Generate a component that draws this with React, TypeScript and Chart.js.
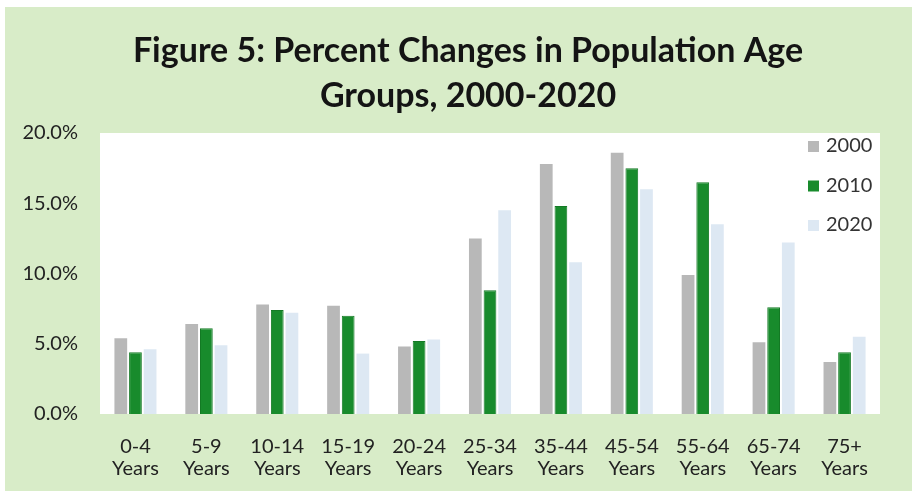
import React, { useEffect, useRef } from "react";
import { Chart, registerables } from "chart.js";

Chart.register(...registerables);

const titleLines = ["Figure 5: Percent Changes in Population Age", "Groups, 2000-2020"];

const ageGroups: string[][] = [
  ["0-4", "Years"],
  ["5-9", "Years"],
  ["10-14", "Years"],
  ["15-19", "Years"],
  ["20-24", "Years"],
  ["25-34", "Years"],
  ["35-44", "Years"],
  ["45-54", "Years"],
  ["55-64", "Years"],
  ["65-74", "Years"],
  ["75+", "Years"],
];

const share2000 = [5.4, 6.4, 7.8, 7.7, 4.8, 12.5, 17.8, 18.6, 9.9, 5.1, 3.7];
const share2010 = [4.4, 6.1, 7.4, 7.0, 5.2, 8.8, 14.8, 17.5, 16.5, 7.6, 4.4];
const share2020 = [4.6, 4.9, 7.2, 4.3, 5.3, 14.5, 10.8, 16.0, 13.5, 12.2, 5.5];

const yTicks = [0, 5, 10, 15, 20];

const FONT = "Lato, 'Noto Sans', sans-serif";
const BG_GREEN = "#d8ecc8";

// Paints the light green card and the white plotting panel.
const backdrop = {
  id: "backdrop",
  beforeDraw(chart: any) {
    const { ctx, width, height, chartArea } = chart;
    ctx.save();
    ctx.fillStyle = "#ffffff";
    ctx.fillRect(0, 0, width, height);
    ctx.fillStyle = BG_GREEN;
    ctx.fillRect(5, 7, width - 5, height - 7);
    ctx.fillStyle = "#ffffff";
    ctx.fillRect(
      chartArea.left,
      chartArea.top,
      chartArea.right - chartArea.left,
      chartArea.bottom - chartArea.top
    );
    ctx.restore();
  },
};

// Two-line bold heading, centred over the card.
const heading = {
  id: "heading",
  afterDraw(chart: any) {
    const { ctx } = chart;
    ctx.save();
    ctx.font = `bold 34px ${FONT}`;
    ctx.fillStyle = "#141414";
    ctx.textAlign = "center";
    ctx.textBaseline = "alphabetic";
    titleLines.forEach((line, i) => {
      ctx.fillText(line, 468, 62 + i * 45);
    });
    ctx.restore();
  },
};

// Series key stacked in the upper-right corner of the plotting panel.
const insetLegend = {
  id: "insetLegend",
  afterDatasetsDraw(chart: any) {
    const { ctx, chartArea } = chart;
    const x = chartArea.right - 72;
    const y0 = chartArea.top + 13;
    const step = 39.5;
    ctx.save();
    ctx.font = `20px ${FONT}`;
    ctx.textBaseline = "middle";
    ctx.textAlign = "left";
    chart.data.datasets.forEach((ds: any, i: number) => {
      const cy = y0 + i * step;
      ctx.fillStyle = ds.backgroundColor;
      ctx.fillRect(x, cy - 5, 11, 11);
      ctx.fillStyle = "#333333";
      ctx.fillText(ds.label, x + 18, cy);
    });
    ctx.restore();
  },
};

export default function App() {
  const canvasRef = useRef<HTMLCanvasElement | null>(null);

  useEffect(() => {
    document.body.style.margin = "0";
    const canvas = canvasRef.current;
    if (!canvas) return;

    const chart = new Chart(canvas, {
      type: "bar",
      data: {
        labels: ageGroups,
        datasets: [
          {
            label: "2000",
            data: share2000,
            backgroundColor: "#b8b8b8",
            categoryPercentage: 0.62,
            barPercentage: 0.87,
          },
          {
            label: "2010",
            data: share2010,
            backgroundColor: "#188b2c",
            borderColor: "#147a25",
            borderWidth: { top: 1, left: 1, right: 1, bottom: 0 },
            categoryPercentage: 0.62,
            barPercentage: 0.87,
          },
          {
            label: "2020",
            data: share2020,
            backgroundColor: "#dde8f3",
            categoryPercentage: 0.62,
            barPercentage: 0.87,
          },
        ],
      },
      options: {
        responsive: false,
        animation: false,
        devicePixelRatio: 1,
        layout: { padding: { left: 0, right: 32, top: 133, bottom: 15 } },
        plugins: {
          legend: { display: false },
          tooltip: { enabled: false },
          title: { display: false },
        },
        scales: {
          x: {
            grid: { display: false, drawTicks: false },
            border: { display: false },
            afterFit(scale: any) {
              scale.height = 62;
            },
            ticks: {
              color: "#222222",
              font: { family: FONT, size: 20, lineHeight: 1.08 },
              padding: 22,
              maxRotation: 0,
              autoSkip: false,
            },
          },
          y: {
            min: 0,
            max: 20,
            grid: { display: false, drawTicks: false },
            border: { display: false },
            afterFit(scale: any) {
              scale.width = 100;
            },
            afterBuildTicks(scale: any) {
              scale.ticks = yTicks.map((v) => ({ value: v }));
            },
            ticks: {
              color: "#222222",
              font: { family: FONT, size: 20 },
              padding: 22,
              callback: (v: any) => `${Number(v).toFixed(1)}%`,
            },
          },
        },
      },
      plugins: [backdrop, heading, insetLegend],
    });

    return () => chart.destroy();
  }, []);

  return (
    <div style={{ width: 912, height: 491 }}>
      <canvas ref={canvasRef} width={912} height={491} style={{ display: "block" }} />
    </div>
  );
}
